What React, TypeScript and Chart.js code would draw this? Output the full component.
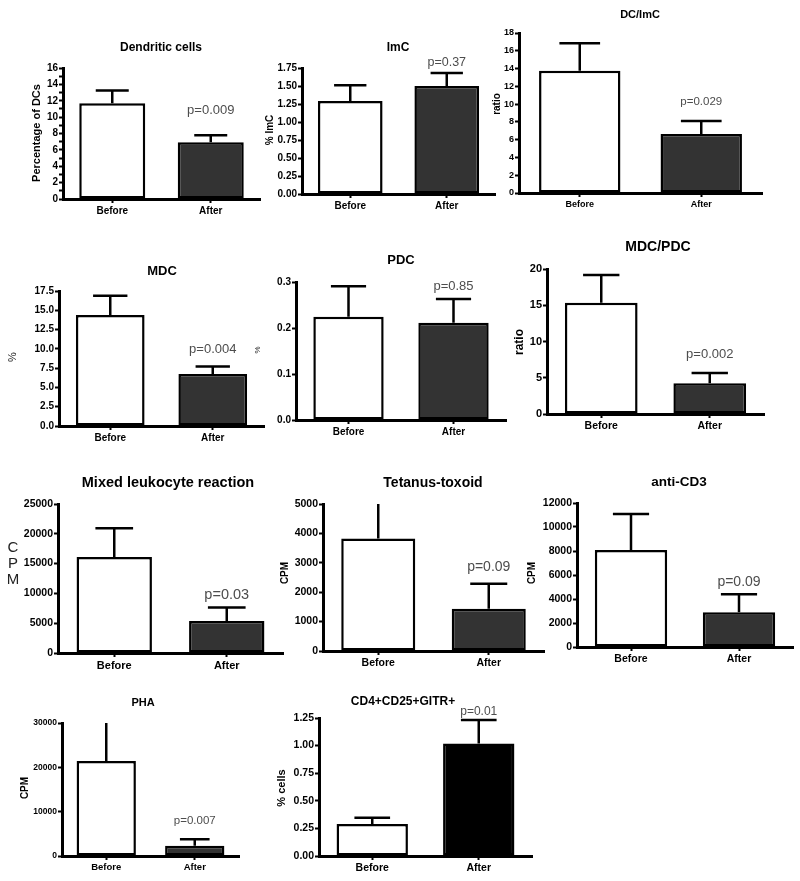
import React, { useEffect, useRef } from "react";
import { Chart, registerables } from "chart.js";

Chart.register(...registerables);

const FONT = '"Liberation Sans", Arial, Helvetica, sans-serif';

// ---------- data ----------
const categories = ["Before", "After"];

const dendriticMeans = [11.7, 6.92];
const dendriticUpper = [13.25, 7.8];

const imcMeans = [1.29, 1.5];
const imcUpper = [1.51, 1.68];

const dcImcMeans = [13.75, 6.64];
const dcImcUpper = [16.85, 8.1];

const mdcMeans = [14.4, 6.74];
const mdcUpper = [16.9, 7.7];

const pdcMeans = [0.2246, 0.2115];
const pdcUpper = [0.2906, 0.263];

const mdcPdcMeans = [15.35, 4.25];
const mdcPdcUpper = [19.17, 5.65];

const mlrMeans = [16100, 5350];
const mlrUpper = [20950, 7650];

const tetanusMeans = [3830, 1440];
const tetanusUpper = [5150, 2290];

const antiCd3Means = [8080, 2890];
const antiCd3Upper = [11080, 4390];

const phaMeans = [21450, 2330];
const phaUpper = [30800, 3770];

const gitrMeans = [0.29, 1.02];
const gitrUpper = [0.347, 1.232];

const panelTitles = [
  "Dendritic cells", "ImC", "DC/ImC", "MDC", "PDC", "MDC/PDC",
  "Mixed leukocyte reaction", "Tetanus-toxoid", "anti-CD3", "PHA", "CD4+CD25+GITR+",
];
const yAxisTitles = [
  "Percentage of DCs", "% ImC", "ratio", "%", "%", "ratio",
  "CPM", "CPM", "CPM", "CPM", "% cells",
];
const pValues = [
  "p=0.009", "p=0.37", "p=0.029", "p=0.004", "p=0.85", "p=0.002",
  "p=0.03", "p=0.09", "p=0.09", "p=0.007", "p=0.01",
];
const yMaxes = [16, 1.75, 18, 17.5, 0.3, 20, 25000, 5000, 12000, 30000, 1.25];
const ySteps = [1, 0.25, 2, 2.5, 0.1, 5, 5000, 1000, 2000, 10000, 0.25];
const yDecimals = [0, 2, 0, 1, 1, 0, 0, 0, 0, 0, 2];
const yLabelEvery = [2, 0, 0, 0, 0, 0, 0, 0, 0, 0, 0];

const seriesMeans = [dendriticMeans, imcMeans, dcImcMeans, mdcMeans, pdcMeans, mdcPdcMeans,
  mlrMeans, tetanusMeans, antiCd3Means, phaMeans, gitrMeans];
const seriesUpper = [dendriticUpper, imcUpper, dcImcUpper, mdcUpper, pdcUpper, mdcPdcUpper,
  mlrUpper, tetanusUpper, antiCd3Upper, phaUpper, gitrUpper];

// ---------- layout / style ----------
type Layout = {
  l: number; r: number; t: number; b: number;
  titleX: number; titleY: number; titleSize: number;
  yTitleX: number; yTitleY: number; yTitleSize: number; yTitleBold: boolean; yTitleStacked?: boolean;
  tickSize: number; xTickSize: number; pSize: number; pGap: number; afterColor: string;
};

const layouts: Layout[] = [
  { l: 63, r: 260, t: 68, b: 199, titleX: 161, titleY: 48, titleSize: 12, yTitleX: 37, yTitleY: 133, yTitleSize: 11, yTitleBold: true, tickSize: 10, xTickSize: 10, pSize: 13, pGap: 25, afterColor: "#333333" },
  { l: 302, r: 495, t: 68, b: 194, titleX: 398, titleY: 48, titleSize: 12, yTitleX: 270, yTitleY: 130, yTitleSize: 10, yTitleBold: true, tickSize: 10, xTickSize: 10, pSize: 12.5, pGap: 10, afterColor: "#333333" },
  { l: 519, r: 762, t: 33, b: 193, titleX: 640, titleY: 15, titleSize: 11, yTitleX: 497, yTitleY: 104, yTitleSize: 10, yTitleBold: true, tickSize: 9, xTickSize: 9, pSize: 11.5, pGap: 19, afterColor: "#333333" },
  { l: 59, r: 264, t: 291, b: 426, titleX: 162, titleY: 271, titleSize: 13, yTitleX: 13, yTitleY: 357, yTitleSize: 11, yTitleBold: false, tickSize: 10, xTickSize: 10, pSize: 13, pGap: 17, afterColor: "#333333" },
  { l: 296, r: 506, t: 282, b: 420, titleX: 401, titleY: 260, titleSize: 13, yTitleX: 258, yTitleY: 350, yTitleSize: 8, yTitleBold: false, tickSize: 10, xTickSize: 10, pSize: 13, pGap: 12.5, afterColor: "#333333" },
  { l: 547, r: 764, t: 269, b: 414, titleX: 658, titleY: 247, titleSize: 14, yTitleX: 520, yTitleY: 342, yTitleSize: 12, yTitleBold: true, tickSize: 11, xTickSize: 10.5, pSize: 13, pGap: 19, afterColor: "#333333" },
  { l: 58, r: 283, t: 504, b: 653, titleX: 168, titleY: 483, titleSize: 14.5, yTitleX: 13, yTitleY: 564, yTitleSize: 15, yTitleBold: false, yTitleStacked: true, tickSize: 10.5, xTickSize: 11, pSize: 14.5, pGap: 12, afterColor: "#333333" },
  { l: 323, r: 544, t: 504, b: 651, titleX: 433, titleY: 483, titleSize: 14, yTitleX: 285, yTitleY: 573, yTitleSize: 10, yTitleBold: true, tickSize: 10.5, xTickSize: 10.5, pSize: 14, pGap: 17, afterColor: "#333333" },
  { l: 577, r: 793, t: 503, b: 647, titleX: 679, titleY: 482, titleSize: 13.5, yTitleX: 532, yTitleY: 573, yTitleSize: 10, yTitleBold: true, tickSize: 10.5, xTickSize: 10.5, pSize: 14, pGap: 12, afterColor: "#333333" },
  { l: 62, r: 239, t: 723, b: 856, titleX: 143, titleY: 703, titleSize: 11, yTitleX: 25, yTitleY: 788, yTitleSize: 10, yTitleBold: true, tickSize: 8.5, xTickSize: 9.5, pSize: 11.5, pGap: 18, afterColor: "#333333" },
  { l: 319, r: 532, t: 718, b: 856, titleX: 403, titleY: 702, titleSize: 12, yTitleX: 282, yTitleY: 788, yTitleSize: 11, yTitleBold: true, tickSize: 10.5, xTickSize: 10.5, pSize: 12, pGap: 8, afterColor: "#000000" },
];

const PAD_L = 60;
const PAD_T = 40;
const PAD_R = 10;
const PAD_B = 30;

function Panel({ idx }: { idx: number }) {
  const ref = useRef<HTMLCanvasElement | null>(null);
  const lay = layouts[idx];
  const cx = lay.l - PAD_L;
  const cy = lay.t - PAD_T;
  const W = lay.r - lay.l + PAD_L + PAD_R;
  const H = lay.b - lay.t + PAD_T + PAD_B;

  useEffect(() => {
    if (!ref.current) return;
    const means = seriesMeans[idx];
    const upper = seriesUpper[idx];
    const decimals = yDecimals[idx];
    const every = yLabelEvery[idx];

    const decor = {
      id: "decor" + idx,
      afterDatasetsDraw(chart: any) {
        const { ctx, chartArea } = chart;
        const ys = chart.scales.y;
        const meta = chart.getDatasetMeta(0);
        ctx.save();
        ctx.beginPath();
        ctx.rect(chartArea.left - 40, chartArea.top, chartArea.right - chartArea.left + 80, chartArea.bottom - chartArea.top);
        ctx.clip();
        ctx.strokeStyle = "#000";
        ctx.lineWidth = 2.5;
        ctx.lineCap = "butt";
        meta.data.forEach((bar: any, i: number) => {
          const yTop = ys.getPixelForValue(upper[i]);
          const half = bar.width * 0.25;
          ctx.beginPath();
          ctx.moveTo(bar.x, bar.y);
          ctx.lineTo(bar.x, yTop);
          ctx.moveTo(bar.x - half, yTop);
          ctx.lineTo(bar.x + half, yTop);
          ctx.stroke();
        });
        ctx.restore();
      },
      afterDraw(chart: any) {
        const { ctx } = chart;
        const ys = chart.scales.y;
        const meta = chart.getDatasetMeta(0);
        ctx.save();
        ctx.textAlign = "center";
        ctx.textBaseline = "middle";
        // title
        ctx.fillStyle = "#000";
        ctx.font = `bold ${lay.titleSize}px ${FONT}`;
        ctx.fillText(panelTitles[idx], lay.titleX - cx, lay.titleY - cy);
        // y title
        ctx.font = `${lay.yTitleBold ? "bold " : ""}${lay.yTitleSize}px ${FONT}`;
        ctx.fillStyle = lay.yTitleBold ? "#000" : "#222";
        if (lay.yTitleStacked) {
          const letters = yAxisTitles[idx].split("");
          const gap = lay.yTitleSize * 1.05;
          letters.forEach((ch, k) => {
            ctx.fillText(ch, lay.yTitleX - cx, lay.yTitleY - cy + (k - (letters.length - 1) / 2) * gap);
          });
        } else {
          ctx.save();
          ctx.translate(lay.yTitleX - cx, lay.yTitleY - cy);
          ctx.rotate(-Math.PI / 2);
          ctx.fillText(yAxisTitles[idx], 0, 0);
          ctx.restore();
        }
        // p value
        const after = meta.data[1];
        const yTop = Math.max(ys.getPixelForValue(upper[1]), chart.chartArea.top);
        ctx.font = `${lay.pSize}px ${FONT}`;
        ctx.fillStyle = "#4d4d4d";
        ctx.fillText(pValues[idx], after.x, yTop - lay.pGap);
        ctx.restore();
      },
    };

    const chart = new Chart(ref.current, {
      type: "bar",
      data: {
        labels: categories,
        datasets: [
          {
            data: means,
            backgroundColor: ["#ffffff", lay.afterColor],
            borderColor: "#000000",
            borderWidth: 2.5,
            borderSkipped: false,
            barPercentage: 0.67,
            categoryPercentage: 1,
          },
        ],
      },
      options: {
        animation: false,
        responsive: false,
        devicePixelRatio: 1,
        layout: { padding: { left: 0, top: PAD_T, right: PAD_R, bottom: 0 } },
        plugins: { legend: { display: false }, tooltip: { enabled: false }, title: { display: false } },
        scales: {
          x: {
            type: "category",
            offset: true,
            afterFit: (s: any) => { s.height = PAD_B; },
            grid: { display: true, drawOnChartArea: false, offset: false, tickLength: 4, tickWidth: 2, tickColor: "#000" },
            border: { display: true, color: "#000", width: 3 },
            ticks: { color: "#000", padding: 2, font: { family: FONT, size: lay.xTickSize, weight: "bold" }, maxRotation: 0 },
          },
          y: {
            min: 0,
            max: yMaxes[idx],
            afterFit: (s: any) => { s.width = PAD_L; },
            grid: { display: true, drawOnChartArea: false, tickLength: 4, tickWidth: 2, tickColor: "#000" },
            border: { display: true, color: "#000", width: 3 },
            ticks: {
              stepSize: ySteps[idx],
              color: "#000",
              padding: 1,
              autoSkip: false,
              font: { family: FONT, size: lay.tickSize, weight: "bold" },
              callback: (v: any) => {
                const n = Number(v);
                if (every && Math.round(n) % every !== 0) return "";
                return n.toFixed(decimals);
              },
            },
          },
        },
      } as any,
      plugins: [decor as any],
    });
    return () => chart.destroy();
  }, [idx]);

  return (
    <canvas
      ref={ref}
      width={W}
      height={H}
      style={{ position: "absolute", left: cx, top: cy, width: W, height: H }}
    />
  );
}

export default function App() {
  return (
    <div
      style={{
        position: "absolute",
        left: 0,
        top: 0,
        width: 800,
        height: 881,
        overflow: "hidden",
        background: "#ffffff",
      }}
    >
      {layouts.map((_, i) => (
        <Panel key={i} idx={i} />
      ))}
    </div>
  );
}
